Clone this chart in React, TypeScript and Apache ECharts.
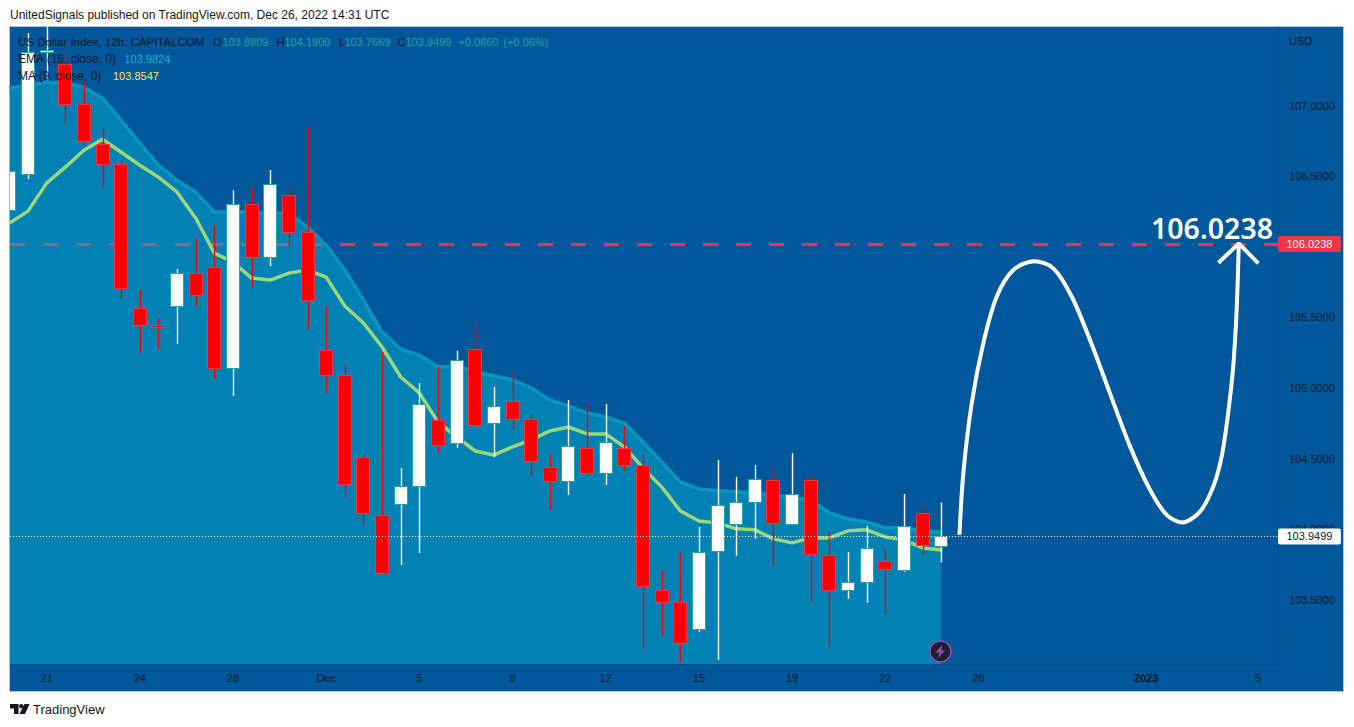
import React, { useEffect, useRef } from "react";
import * as echarts from "echarts";

const barIndex = Array.from({ length: 51 }, (_, i) => i);
const opens = [106.26,106.514,107.377,107.292,107.009,106.727,106.585,105.567,105.447,105.581,105.814,105.857,105.142,106.302,105.927,106.366,106.104,105.27,105.093,104.513,104.103,104.181,104.308,104.775,104.612,105.277,104.753,104.909,104.782,104.442,104.343,104.577,104.4,104.577,104.456,103.572,103.488,103.297,103.848,104.039,104.195,104.35,104.039,104.35,103.82,103.572,103.629,103.778,103.714,104.117,103.8809];
const closes = [106.54,107.377,107.391,107.009,106.748,106.585,105.708,105.447,105.436,105.814,105.659,105.142,106.302,105.927,106.444,106.104,105.623,105.093,104.322,104.117,103.693,104.308,104.888,104.598,105.199,104.739,104.874,104.782,104.485,104.343,104.591,104.4,104.619,104.456,103.601,103.488,103.198,103.841,104.174,104.195,104.357,104.046,104.251,103.827,103.572,103.629,103.869,103.721,104.025,103.891,103.9499];
const lows = [106.26,106.479,107.179,106.875,106.72,106.415,105.63,105.249,105.277,105.312,105.581,105.065,104.944,105.708,105.864,105.998,105.418,104.966,104.23,104.032,103.693,103.749,103.834,104.541,104.577,104.725,104.513,104.704,104.379,104.145,104.244,104.379,104.315,104.407,103.155,103.247,103.056,103.275,103.077,103.813,103.933,103.742,104.039,103.488,103.167,103.509,103.481,103.396,103.7,103.82,103.7669];
const highs = [106.54,107.512,107.62,107.37,107.165,106.84,106.613,105.694,105.496,105.843,106.062,106.154,106.401,106.415,106.543,106.415,106.847,105.581,105.171,104.527,105.256,104.435,105.036,105.149,105.263,105.475,105.008,105.107,104.817,104.534,104.916,104.895,104.888,104.732,104.527,103.714,103.834,104.018,104.492,104.372,104.456,104.442,104.541,104.393,103.983,103.841,104.025,103.862,104.251,104.174,104.1909];
const emaValues = [107.123,107.144,107.165,107.158,107.13,107.052,106.896,106.734,106.578,106.472,106.387,106.246,106.246,106.246,106.239,106.239,106.14,106.012,105.836,105.623,105.397,105.277,105.234,105.149,105.157,105.114,105.086,105.058,105.001,104.916,104.874,104.824,104.796,104.753,104.619,104.478,104.336,104.287,104.273,104.266,104.258,104.244,104.223,104.209,104.117,104.075,104.053,104.011,104.011,103.99,103.9824];
const maValues = [106.168,106.253,106.451,106.564,106.684,106.762,106.67,106.578,106.493,106.387,106.203,105.956,105.892,105.779,105.765,105.814,105.836,105.786,105.581,105.461,105.291,105.079,104.966,104.761,104.654,104.555,104.527,104.584,104.633,104.697,104.725,104.676,104.676,104.584,104.435,104.301,104.131,104.06,104.046,104.004,103.997,103.933,103.905,103.94,103.94,103.99,103.997,103.947,103.926,103.869,103.8547];
const curveIndex = [50.98,51.19,51.64,52.26,52.98,53.87,54.99,56.02,57.01,57.99,59.06,60.14,61.21,62.1,62.94,63.89,64.6,65.05,65.4,65.67,65.82,65.91,65.97];
const curvePrices = [103.961,104.398,104.893,105.317,105.647,105.836,105.899,105.848,105.647,105.34,104.963,104.586,104.28,104.103,104.049,104.126,104.303,104.515,104.822,105.151,105.459,105.741,106.0238];
const arrowIndex = [64.88,65.97,67.02];
const arrowPrices = [105.887,106.0238,105.883];
const targetPrice = 106.0238;
const lastPrice = 103.9499;
const priceTicks = [103.5,104,104.5,105,105.5,106.5,107];
const timeTickIndex = [2,7,12,17,22,27,32,37,42,47,52,61,67];
const timeTickLabels = ["21","24","28","Dec","5","8","12","15","19","22","26","2023","5"];

const BG = "#00579B";
const DARK = "#131722";
const TEAL = "#26A69A";
const FONT = "Liberation Sans";

function txt(text: string, x: number, y: number, fill: string, size = 11, weight = "normal", extra: any = {}) {
  return {
    type: "text", x, y, z: 100, silent: true,
    style: { text, fill, font: `${weight} ${size}px "${FONT}"`, textVerticalAlign: "middle", verticalAlign: "middle", ...extra },
  };
}

export default function App() {
  const ref = useRef<HTMLDivElement>(null);
  useEffect(() => {
    const chart = echarts.init(ref.current!, undefined, { renderer: "svg", width: 1354, height: 727 });
    const candleData = barIndex.map((i) => [i, opens[i], closes[i], lows[i], highs[i]]);
    const option: any = {
      animation: false,
      backgroundColor: "#ffffff",
      textStyle: { fontFamily: FONT },
      grid: { left: 10, top: 27, width: 1268, height: 637, containLabel: false },
      xAxis: {
        type: "value", min: 0.034, max: 68.075, splitLine: { show: false },
        axisLine: { show: true, onZero: false, lineStyle: { color: "#0A4D86" } },
        axisTick: { show: false },
        axisLabel: {
          customValues: timeTickIndex, color: DARK, fontSize: 11, margin: 8, fontFamily: FONT,
          formatter: (v: number) => {
            const l = timeTickLabels[timeTickIndex.indexOf(v)];
            return l === "2023" ? `{b|${l}}` : l;
          },
          rich: { b: { fontWeight: "bold", color: DARK, fontSize: 11, fontFamily: FONT } },
        },
      },
      yAxis: {
        type: "value", position: "right", min: 103.0474, max: 107.5562, splitLine: { show: false },
        axisLine: { show: true, onZero: false, lineStyle: { color: "#0A4D86" } },
        axisTick: { show: false },
        axisLabel: {
          customValues: priceTicks, color: DARK, fontSize: 11, margin: 11, fontFamily: FONT,
          formatter: (v: number) => v.toFixed(4),
        },
      },
      series: [
        {
          type: "line", name: "Target", data: [], z: 1,
          markLine: {
            silent: true, symbol: "none", z: 1, animation: false,
            lineStyle: { color: "#F5304A", width: 3, type: [15, 18], opacity: 1 },
            label: {
              show: true, position: "end", distance: 0, formatter: () => targetPrice.toFixed(4),
              backgroundColor: "#F23645", color: "#fff", fontSize: 11, padding: [2.5, 8.5, 2.5, 8.5], borderRadius: 2, fontFamily: FONT,
            },
            data: [{ yAxis: targetPrice }],
          },
        },
        {
          type: "line", name: "EMA (16, close, 0)", z: 2, showSymbol: false, symbol: "none",
          data: barIndex.map((i) => [i, emaValues[i]]),
          lineStyle: { color: "#0A96BC", width: 3.5 },
          areaStyle: { color: "rgba(5,184,211,0.44)", origin: "start", opacity: 1 },
        },
        {
          type: "line", name: "MA (9, close, 0)", z: 3, showSymbol: false, symbol: "none",
          data: barIndex.map((i) => [i, maValues[i]]),
          lineStyle: { color: "#9CD67C", width: 3.5 },
        },
        {
          type: "custom", name: "US Dollar Index", z: 4, clip: true,
          encode: { x: 0, y: [1, 2, 3, 4] },
          data: candleData,
          renderItem: (_p: any, api: any) => {
            const idx = api.value(0);
            const o = api.value(1), c = api.value(2), l = api.value(3), h = api.value(4);
            const up = c >= o;
            const x = Math.round(api.coord([idx, o])[0]);
            const yo = Math.round(api.coord([idx, o])[1]);
            const yc = Math.round(api.coord([idx, c])[1]);
            const yl = api.coord([idx, l])[1];
            const yh = api.coord([idx, h])[1];
            const top = Math.min(yo, yc), bot = Math.max(yo, yc, top + 1);
            return {
              type: "group",
              children: [
                { type: "line", shape: { x1: x + 0.5, y1: yh, x2: x + 0.5, y2: yl }, style: { stroke: up ? "#FFFFFF" : "#FF0000", lineWidth: 1.4 } },
                {
                  type: "rect",
                  shape: { x: x - 6.5, y: top + 0.5, width: 13, height: bot - top },
                  style: { fill: up ? "#FFFFFF" : "#FF0000", stroke: up ? TEAL : "#F23645", lineWidth: 1 },
                },
              ],
            };
          },
        },
        {
          type: "line", name: "Last price", data: [], z: 5,
          markLine: {
            silent: true, symbol: "none", z: 5, animation: false,
            lineStyle: { color: "#FFFFFF", width: 1, type: [1, 2], opacity: 1 },
            label: {
              show: true, position: "end", distance: 0, formatter: () => lastPrice.toFixed(4),
              backgroundColor: "#FFFFFF", color: DARK, fontSize: 11, padding: [2.5, 8.5, 2.5, 8.5], borderRadius: 2, fontFamily: FONT,
            },
            data: [{ yAxis: lastPrice }],
          },
        },
        {
          type: "line", name: "Path", z: 6, smooth: 0.3, showSymbol: false, symbol: "none",
          data: curveIndex.map((x, i) => [x, curvePrices[i]]),
          lineStyle: { color: "#FFFFFF", width: 4 },
        },
        {
          type: "line", name: "Arrow", z: 6, showSymbol: false, symbol: "none",
          data: arrowIndex.map((x, i) => [x, arrowPrices[i]]),
          lineStyle: { color: "#FFFFFF", width: 4 },
        },
      ],
      graphic: {
        elements: [
          { type: "rect", z: -10, silent: true, shape: { x: 9.5, y: 26.5, width: 1334, height: 665 }, style: { fill: BG, stroke: "#B5C4D6", lineWidth: 1 } },
          txt("UnitedSignals published on TradingView.com, Dec 26, 2022 14:31 UTC", 10, 15, DARK, 12),
          txt("US Dollar Index, 12h, CAPITALCOM", 18, 41.5, DARK, 11.5),
          txt("O", 213, 41.5, DARK, 11.5), txt("103.8809", 222.5, 41.5, TEAL),
          txt("H", 276.5, 41.5, DARK, 11.5), txt("104.1909", 284.5, 41.5, TEAL),
          txt("L", 339, 41.5, DARK, 11.5), txt("103.7669", 344.5, 41.5, TEAL),
          txt("C", 397.5, 41.5, DARK, 11.5), txt("103.9499", 405.5, 41.5, TEAL),
          txt("+0.0660", 458.5, 41.5, TEAL), txt("(+0.06%)", 503.5, 41.5, TEAL),
          txt("EMA (16, close, 0)", 18, 59, DARK, 12), txt("103.9824", 124.5, 59, "#0FB8D4"),
          txt("MA (9, close, 0)", 18, 76, DARK, 12), txt("103.8547", 113, 76, "#FFEB3B"),
          txt("USD", 1289, 41, DARK),
          txt("106.0238", 1151, 228, "#FFFFFF", 28, "500", { font: `600 28.5px "Noto Sans"` }),
          { type: "circle", z: 100, silent: true, shape: { cx: 940.5, cy: 651.5, r: 10.5 }, style: { fill: "#1C2233", stroke: "#9B4DBB", lineWidth: 1.5 } },
          { type: "polygon", z: 101, silent: true, shape: { points: [[942.5, 645], [935.5, 652.5], [939.5, 652.5], [938, 658], [945, 650.5], [941, 650.5]] }, style: { fill: "#9B4DBB" } },
          { type: "polygon", z: 100, silent: true, shape: { points: [[10, 704], [18.5, 704], [18.5, 714], [14, 714], [14, 708.5], [10, 708.5]] }, style: { fill: DARK } },
          { type: "circle", z: 100, silent: true, shape: { cx: 21.3, cy: 706.2, r: 2.2 }, style: { fill: DARK } },
          { type: "polygon", z: 100, silent: true, shape: { points: [[24.5, 704], [29.5, 704], [25, 714], [19.5, 714]] }, style: { fill: DARK } },
          txt("TradingView", 33, 709.5, DARK, 13),
        ],
      },
    };
    chart.setOption(option);
    return () => chart.dispose();
  }, []);
  return <div ref={ref} style={{ position: "absolute", left: 0, top: 0, width: 1354, height: 727, background: "#fff" }} />;
}
